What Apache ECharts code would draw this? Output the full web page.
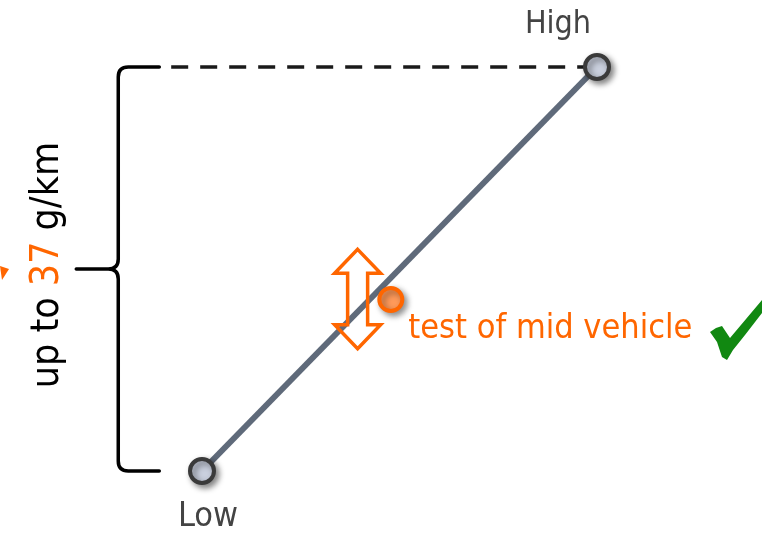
<!DOCTYPE html>
<html>
<head>
<meta charset="utf-8">
<script src="https://cdn.jsdelivr.net/npm/echarts@6/dist/echarts.min.js"></script>
<style>
  html, body { margin: 0; padding: 0; background: #fff; }
  #chart { width: 762px; height: 533px; }
</style>
</head>
<body>
<div id="chart"></div>
<script>
// vehicle position (0 = low, 1 = high) and emissions in g/km
const pointNames = ['Low', 'High'];
const vehiclePos = [0, 1];
const emissions = [0, 37];
const midVehicle = [0.478, 15.7];
const midLabel = 'test of mid vehicle';
const testRange = [11.2, 20.3];
const arrowPos = 0.394;
const bracePos = -0.212;
const dashStart = -0.078;

const FONT = '"DejaVu Sans Condensed", "DejaVu Sans", sans-serif';
const ORANGE = '#ff6600';

const chart = echarts.init(document.getElementById('chart'));

const lineData = vehiclePos.map((x, i) => ({
    value: [x, emissions[i]],
    label: {
        show: true,
        formatter: pointNames[i],
        position: i === 0 ? 'bottom' : 'top',
        distance: i === 0 ? 15 : 12,
        offset: i === 0 ? [6, 0] : [-39, 0],
        fontSize: i === 0 ? 34 : 32,
        fontFamily: FONT,
        color: '#444'
    }
}));

const renderBrace = (params, api) => {
    const top = api.coord([api.value(0), api.value(2)]);
    const bot = api.coord([api.value(0), api.value(1)]);
    const sx = top[0];
    const ty = top[1];
    const by = bot[1];
    const my = (ty + by) / 2;
    const arm = sx + 41;
    const tip = sx - 42;
    const r = 10;
    const d = `M${arm},${ty} L${sx + r},${ty} Q${sx},${ty} ${sx},${ty + r} L${sx},${my - r} Q${sx},${my} ${sx - r},${my} L${tip},${my}`
        + ` M${sx - r},${my} Q${sx},${my} ${sx},${my + r} L${sx},${by - r} Q${sx},${by} ${sx + r},${by} L${arm},${by}`;
    return {
        type: 'path',
        shape: {pathData: d},
        style: {fill: null, stroke: '#000', lineWidth: 3.5, lineCap: 'round', lineJoin: 'round'}
    };
};

const renderDash = (params, api) => {
    const a = api.coord([api.value(0), api.value(2)]);
    const b = api.coord([api.value(1), api.value(2)]);
    return {
        type: 'line',
        shape: {x1: a[0], y1: a[1], x2: b[0], y2: b[1]},
        style: {stroke: '#1a1a1a', lineWidth: 3.5, lineDash: [17, 12]}
    };
};

const renderArrow = (params, api) => {
    const top = api.coord([api.value(0), api.value(2)]);
    const bot = api.coord([api.value(0), api.value(1)]);
    const cx = top[0];
    const t = top[1];
    const b = bot[1];
    const hw = 23;
    const sw = 10;
    const hh = 24;
    const pts = [
        [cx, t], [cx + hw, t + hh], [cx + sw, t + hh], [cx + sw, b - hh], [cx + hw, b - hh],
        [cx, b], [cx - hw, b - hh], [cx - sw, b - hh], [cx - sw, t + hh], [cx - hw, t + hh]
    ];
    return {
        type: 'polygon',
        shape: {points: pts},
        style: {fill: 'rgba(255,255,255,0)', stroke: ORANGE, lineWidth: 3.5, lineJoin: 'miter'}
    };
};

const option = {
    animation: false,
    backgroundColor: '#fff',
    grid: {left: 202, right: 165, top: 67, bottom: 62},
    xAxis: {type: 'value', min: 0, max: 1, show: false},
    yAxis: {type: 'value', min: 0, max: 37, show: false},
    series: [
        {
            type: 'custom',
            clip: false,
            z: 1,
            renderItem: renderDash,
            data: [[dashStart, vehiclePos[1], emissions[1]]]
        },
        {
            type: 'custom',
            clip: false,
            z: 2,
            renderItem: renderBrace,
            data: [[bracePos, emissions[0], emissions[1]]]
        },
        {
            type: 'line',
            clip: false,
            z: 3,
            symbol: 'circle',
            symbolSize: 24,
            data: lineData,
            lineStyle: {color: '#5f6a7a', width: 6},
            itemStyle: {
                color: '#c9cfdd',
                borderColor: '#3a3a3a',
                borderWidth: 4,
                shadowBlur: 6,
                shadowColor: 'rgba(0,0,0,0.45)',
                shadowOffsetX: 3,
                shadowOffsetY: 3
            }
        },
        {
            type: 'custom',
            clip: false,
            z: 4,
            renderItem: renderArrow,
            data: [[arrowPos, testRange[0], testRange[1]]]
        },
        {
            type: 'scatter',
            z: 5,
            symbolSize: 23,
            data: [midVehicle],
            itemStyle: {
                opacity: 1,
                color: '#ff9a5a',
                borderColor: ORANGE,
                borderWidth: 4,
                shadowBlur: 6,
                shadowColor: 'rgba(0,0,0,0.4)',
                shadowOffsetX: 3,
                shadowOffsetY: 3
            },
            label: {
                show: true,
                position: 'right',
                distance: 4,
                offset: [0, 30],
                formatter: midLabel,
                fontSize: 34,
                fontFamily: FONT,
                color: ORANGE
            }
        }
    ],
    graphic: [
        {
            type: 'text',
            x: 48,
            y: 265,
            rotation: Math.PI / 2,
            style: {
                text: '{a|up to }{b|37}{a| g/km}',
                align: 'center',
                verticalAlign: 'middle',
                rich: {
                    a: {fontSize: 39, fontFamily: FONT, fill: '#000'},
                    b: {fontSize: 39, fontFamily: FONT, fill: ORANGE}
                }
            }
        },
        {
            type: 'polygon',
            shape: {points: [[0, 266], [9, 269], [2, 280]]},
            style: {fill: ORANGE}
        },
        {
            // check mark
            type: 'polygon',
            shape: {
                points: [[710, 332], [716, 328], [722, 326], [730, 338], [762, 300], [762, 313],
                    [745, 335], [733, 350], [727, 360], [722, 357], [717, 342]]
            },
            style: {fill: '#118811'}
        }
    ]
};

chart.setOption(option);
</script>
</body>
</html>
